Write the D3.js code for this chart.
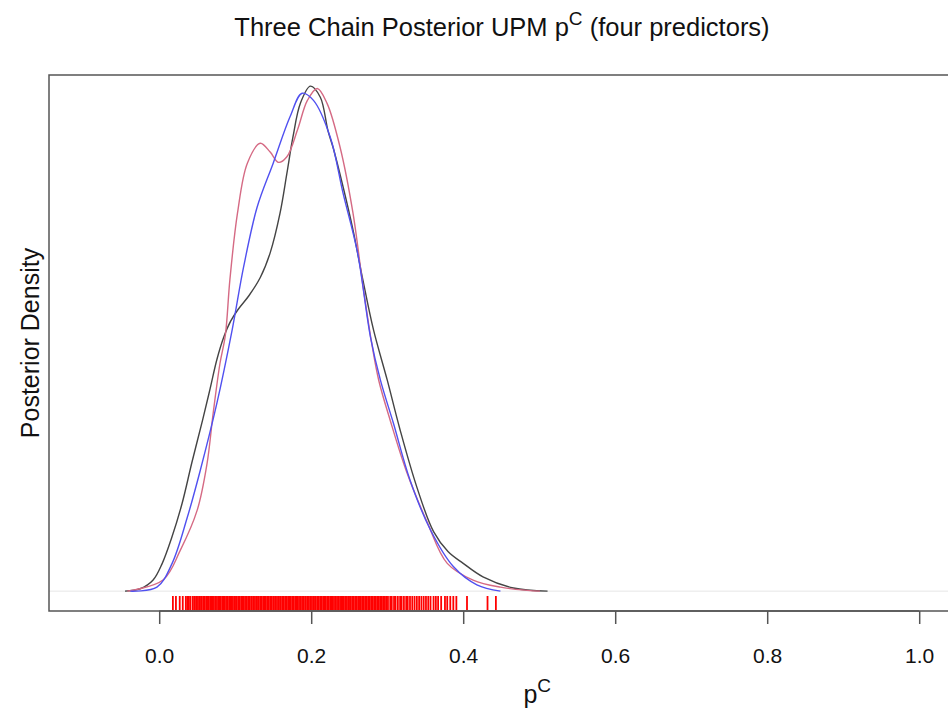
<!DOCTYPE html>
<html lang="en">
<head>
    <title>Three Chain Posterior UPM</title>
    <script src="https://d3js.org/d3.v7.min.js"></script>
    <style>
        body { margin: 0; background: #fff; }
        text { font-family: "Liberation Sans", Arial, sans-serif; fill: #111; }
    </style>
</head>
<body>
    <div id="chart"></div>

    <script>
        // Density curves for the three chains (x = p^C, y = density)
        const chain1X = [-0.045, -0.025, -0.008, 0.004, 0.016, 0.030, 0.043, 0.057, 0.067, 0.076, 0.085, 0.094, 0.104, 0.118, 0.133, 0.146, 0.159, 0.168, 0.176, 0.186, 0.199, 0.212, 0.222, 0.229, 0.242, 0.255, 0.268, 0.282, 0.300, 0.317, 0.339, 0.361, 0.380, 0.400, 0.426, 0.466, 0.511];
        const chain1Y = [0, 0.03, 0.14, 0.35, 0.66, 1.10, 1.62, 2.15, 2.55, 2.92, 3.20, 3.40, 3.55, 3.72, 3.95, 4.26, 4.76, 5.26, 5.72, 6.15, 6.36, 6.22, 5.80, 5.58, 5.09, 4.55, 3.92, 3.29, 2.66, 2.03, 1.31, 0.75, 0.50, 0.35, 0.18, 0.04, 0];

        const chain2X = [-0.042, 0.005, 0.028, 0.050, 0.063, 0.071, 0.080, 0.087, 0.093, 0.103, 0.116, 0.133, 0.146, 0.157, 0.168, 0.182, 0.195, 0.208, 0.221, 0.238, 0.255, 0.268, 0.280, 0.289, 0.304, 0.326, 0.353, 0.379, 0.413, 0.449, 0.484, 0.501];
        const chain2Y = [0, 0.14, 0.52, 1.02, 1.61, 2.24, 2.87, 3.22, 3.92, 4.76, 5.39, 5.64, 5.53, 5.40, 5.47, 5.81, 6.18, 6.33, 6.14, 5.59, 4.76, 3.85, 3.10, 2.65, 2.15, 1.49, 0.86, 0.35, 0.14, 0.05, 0.01, 0];

        const chain3X = [-0.038, -0.003, 0.017, 0.037, 0.054, 0.076, 0.096, 0.111, 0.129, 0.150, 0.172, 0.188, 0.203, 0.225, 0.242, 0.261, 0.278, 0.291, 0.308, 0.330, 0.357, 0.387, 0.418, 0.449];
        const chain3Y = [0, 0.05, 0.35, 0.93, 1.52, 2.37, 3.29, 4.08, 4.84, 5.39, 5.97, 6.27, 6.18, 5.72, 5.01, 4.26, 3.20, 2.66, 2.12, 1.40, 0.77, 0.31, 0.08, 0];

        const chainColors = ["#444444", "#d56a84", "#5050f0"];

        // Rug of posterior draws
        const rugValues = [0.018, 0.022, 0.027, 0.031, 0.035, 0.037, 0.039, 0.041, 0.044, 0.046, 0.047, 0.049, 0.051, 0.053, 0.055, 0.056, 0.058, 0.060, 0.062, 0.063, 0.065, 0.067, 0.069, 0.070, 0.072, 0.074, 0.076, 0.078, 0.079, 0.081, 0.083, 0.085, 0.086, 0.088, 0.090, 0.092, 0.094, 0.095, 0.097, 0.099, 0.101, 0.102, 0.104, 0.106, 0.108, 0.110, 0.111, 0.113, 0.115, 0.117, 0.119, 0.121, 0.122, 0.124, 0.126, 0.128, 0.130, 0.131, 0.133, 0.135, 0.137, 0.139, 0.140, 0.142, 0.144, 0.146, 0.148, 0.150, 0.151, 0.153, 0.155, 0.157, 0.159, 0.160, 0.162, 0.164, 0.166, 0.168, 0.170, 0.171, 0.173, 0.175, 0.177, 0.179, 0.181, 0.182, 0.184, 0.186, 0.188, 0.190, 0.192, 0.193, 0.195, 0.197, 0.199, 0.201, 0.203, 0.205, 0.206, 0.208, 0.210, 0.212, 0.214, 0.216, 0.217, 0.219, 0.221, 0.223, 0.225, 0.227, 0.228, 0.230, 0.232, 0.234, 0.236, 0.238, 0.240, 0.241, 0.243, 0.245, 0.247, 0.249, 0.251, 0.252, 0.254, 0.256, 0.258, 0.260, 0.262, 0.263, 0.265, 0.267, 0.269, 0.271, 0.273, 0.275, 0.277, 0.279, 0.281, 0.283, 0.285, 0.287, 0.289, 0.291, 0.293, 0.295, 0.297, 0.299, 0.301, 0.304, 0.306, 0.309, 0.311, 0.314, 0.317, 0.319, 0.322, 0.325, 0.327, 0.330, 0.333, 0.336, 0.339, 0.342, 0.345, 0.348, 0.351, 0.354, 0.357, 0.361, 0.364, 0.367, 0.371, 0.376, 0.379, 0.383, 0.387, 0.391, 0.405, 0.432, 0.443];

        const xTicks = [0, 0.2, 0.4, 0.6, 0.8, 1.0];

        const width = 948;
        const height = 718;
        const plotLeft = 49, plotTop = 75, plotBottom = 611;

        const svg = d3.select("#chart")
            .append("svg")
            .attr("width", width)
            .attr("height", height);

        const x = d3.scaleLinear()
            .domain([-0.145, 1.145])
            .range([plotLeft, plotLeft + 1.29 * 760]);

        const y = d3.scaleLinear()
            .domain([-0.25, 6.5])
            .range([plotBottom, plotTop]);

        // zero line
        svg.append("line")
            .attr("x1", plotLeft).attr("x2", width)
            .attr("y1", y(0)).attr("y2", y(0))
            .attr("stroke", "#e6e6e6")
            .attr("stroke-width", 1);

        // rug
        svg.append("g")
            .selectAll("line")
            .data(rugValues)
            .enter()
            .append("line")
            .attr("x1", d => x(d)).attr("x2", d => x(d))
            .attr("y1", plotBottom - 15).attr("y2", plotBottom - 1)
            .attr("stroke", "#ff0000")
            .attr("stroke-width", 1.8);

        // density curves
        const line = d3.line()
            .x(d => x(d[0]))
            .y(d => y(d[1]))
            .curve(d3.curveCatmullRom.alpha(0.5));

        const chains = [
            d3.zip(chain1X, chain1Y),
            d3.zip(chain2X, chain2Y),
            d3.zip(chain3X, chain3Y)
        ];

        svg.append("g")
            .selectAll("path")
            .data(chains)
            .enter()
            .append("path")
            .attr("d", line)
            .attr("fill", "none")
            .attr("stroke", (d, i) => chainColors[i])
            .attr("stroke-width", 1.4);

        // plot box (right edge runs off the page)
        svg.append("rect")
            .attr("x", plotLeft).attr("y", plotTop)
            .attr("width", x.range()[1] - plotLeft)
            .attr("height", plotBottom - plotTop)
            .attr("fill", "none")
            .attr("stroke", "#555")
            .attr("stroke-width", 1.5);

        // x axis
        const xAxis = svg.append("g")
            .attr("transform", `translate(0, ${plotBottom})`)
            .call(d3.axisBottom(x)
                .tickValues(xTicks)
                .tickFormat(d3.format(".1f"))
                .tickSize(13)
                .tickPadding(24));
        xAxis.select(".domain")
            .attr("d", `M${x(0)},0H${x(1)}`)
            .attr("stroke", "#555")
            .attr("stroke-width", 1.5);
        xAxis.selectAll(".tick line").attr("stroke", "#555").attr("stroke-width", 1.5);
        xAxis.selectAll(".tick text")
            .attr("font-size", 21)
            .attr("font-family", "Liberation Sans, Arial, sans-serif")
            .attr("fill", "#111");

        // title
        const title = svg.append("text")
            .attr("x", 502).attr("y", 36)
            .attr("text-anchor", "middle")
            .attr("font-size", 25.5);
        title.append("tspan").text("Three Chain Posterior UPM p");
        title.append("tspan").attr("dy", -11).attr("font-size", 19).text("C");
        title.append("tspan").attr("dy", 11).text(" (four predictors)");

        // x label
        const xLabel = svg.append("text")
            .attr("x", x(0.5) - 2).attr("y", 703)
            .attr("text-anchor", "middle")
            .attr("font-size", 25);
        xLabel.append("tspan").text("p");
        xLabel.append("tspan").attr("dy", -11).attr("font-size", 19).text("C");

        // y label
        svg.append("text")
            .attr("transform", `translate(39, 343) rotate(-90)`)
            .attr("text-anchor", "middle")
            .attr("font-size", 25)
            .text("Posterior Density");
    </script>
</body>
</html>
